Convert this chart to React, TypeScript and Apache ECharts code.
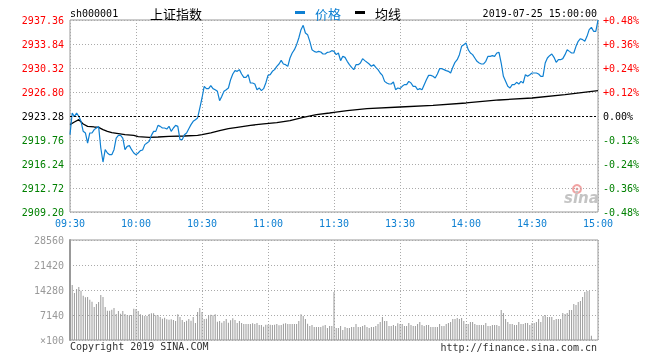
import React, { useEffect, useRef } from "react";
import * as echarts from "echarts";

const PRE_CLOSE = 2923.28;
const timeLabels = ["09:30", "10:00", "10:30", "11:00", "11:30", "13:30", "14:00", "14:30", "15:00"];

// one price per minute, index 0 = 09:30, 120 = 11:30/13:00, 240 = 15:00
const prices = [
  2920.54, 2923.72, 2923.18, 2923.72, 2923.23, 2922.50, 2921.03, 2920.79, 2919.32, 2920.79,
  2920.79, 2921.28, 2921.52, 2921.76, 2918.59, 2916.53, 2918.34, 2917.85, 2917.61, 2917.61,
  2918.34, 2920.05, 2920.44, 2920.44, 2920.05, 2918.34, 2918.83, 2918.93, 2918.34, 2917.85,
  2917.61, 2917.85, 2918.20, 2918.29, 2919.08, 2919.32, 2919.56, 2920.44, 2921.03, 2921.03,
  2921.91, 2921.76, 2921.52, 2921.52, 2921.37, 2921.76, 2921.03, 2921.52, 2921.91, 2921.76,
  2919.81, 2919.81, 2920.54, 2920.79, 2921.42, 2922.01, 2922.50, 2922.74, 2922.99, 2924.45,
  2925.92, 2927.63, 2927.29, 2927.29, 2927.73, 2927.29, 2927.14, 2926.90, 2925.53, 2926.16,
  2926.90, 2927.14, 2927.39, 2928.61, 2929.44, 2929.93, 2929.83, 2930.08, 2929.44, 2928.95,
  2928.95, 2929.34, 2928.12, 2928.12, 2927.97, 2927.14, 2927.39, 2927.00, 2927.29, 2928.12,
  2929.24, 2929.34, 2929.83, 2930.08, 2930.56, 2930.91, 2931.44, 2930.91, 2930.81, 2930.56,
  2931.79, 2932.52, 2933.01, 2933.74, 2934.72, 2935.94, 2936.58, 2935.45, 2935.21, 2934.23,
  2933.01, 2932.76, 2932.62, 2932.76, 2932.67, 2932.37, 2932.37, 2932.62, 2932.67, 2932.86,
  2932.76, 2932.28, 2932.52, 2931.40, 2932.03, 2931.88, 2931.30, 2930.81, 2930.42, 2930.08,
  2930.81, 2930.81, 2931.05, 2931.69, 2931.40, 2931.15, 2930.91, 2930.56, 2930.81, 2930.42,
  2930.08, 2929.59, 2929.24, 2928.36, 2928.12, 2927.97, 2927.97, 2928.27, 2927.14, 2927.39,
  2927.29, 2927.63, 2927.88, 2927.88, 2928.36, 2928.12, 2927.63, 2927.63, 2927.14, 2927.29,
  2927.14, 2927.88, 2928.61, 2929.24, 2929.24, 2929.10, 2928.85, 2929.44, 2930.22, 2930.22,
  2930.08, 2929.93, 2929.83, 2929.59, 2930.42, 2931.15, 2931.54, 2932.28, 2933.50, 2933.74,
  2933.99, 2933.01, 2932.52, 2932.28, 2931.79, 2931.30, 2931.05, 2930.91, 2930.91, 2931.30,
  2932.03, 2932.03, 2932.13, 2932.03, 2932.52, 2932.62, 2931.05, 2929.10, 2928.36, 2927.63,
  2927.39, 2927.88, 2927.88, 2928.22, 2927.97, 2928.36, 2928.12, 2929.34, 2929.10, 2929.34,
  2929.59, 2929.59, 2929.59, 2929.44, 2929.10, 2929.10, 2931.05, 2931.79, 2932.13, 2932.37,
  2931.88, 2931.15, 2931.54, 2931.54, 2931.69, 2932.28, 2933.01, 2932.76, 2932.52, 2932.52,
  2933.50, 2934.23, 2934.62, 2934.48, 2934.23, 2934.96, 2935.94, 2936.28, 2935.70, 2935.70,
  2937.36,
];

const avgMinutes = [0, 2, 4, 6, 8, 11, 13, 15, 17, 19, 22, 25, 29, 31, 36, 40, 45, 52, 58, 60, 64, 68, 72, 76, 82, 88, 94, 100, 106, 112, 118, 120, 126, 135, 150, 165, 180, 195, 210, 225, 240];
const avgValues = [
  2922.01, 2922.40, 2922.74, 2922.10, 2921.76, 2921.67, 2921.62, 2921.28, 2921.03, 2920.84,
  2920.69, 2920.54, 2920.44, 2920.25, 2920.15, 2920.20, 2920.30, 2920.35, 2920.44, 2920.54,
  2920.79, 2921.12, 2921.42, 2921.62, 2921.91, 2922.11, 2922.30, 2922.60, 2923.08, 2923.48,
  2923.72, 2923.82, 2924.06, 2924.36, 2924.60, 2924.84, 2925.19, 2925.63, 2925.92, 2926.41,
  2926.99,
];

// volumes (x100), per minute
const volMorning = [
  16660, 15708, 13423, 14566, 15137, 14090, 12662, 12186, 12281, 11519,
  10948, 9425, 10282, 10853, 12852, 12281, 9425, 8378, 8378, 8663,
  9139, 7426, 8282, 7521, 8282, 7426, 7140, 7045, 7140, 8949,
  8854, 8282, 7330, 6950, 6854, 6854, 7426, 7616, 7616, 7045,
  7045, 6569, 6093, 6378, 5902, 5807, 5902, 5712, 5426, 7330,
  6569, 5712, 5141, 5522, 5998, 5522, 6569, 4855, 7997, 9139,
  7997, 5998, 6093, 7045, 7235, 7045, 7330, 5236, 5426, 4950,
  5426, 5998, 4950, 5617, 6188, 5712, 4855, 5426, 4855, 4570,
  4570, 4570, 4570, 4760, 4570, 4855, 4284, 4284, 3808, 4379,
  4379, 4379, 4284, 4379, 4570, 4189, 4284, 4665, 4760, 4570,
  4570, 4570, 4570, 4570, 5426, 7330, 6854, 5998, 4665, 3998,
  4284, 3713, 3713, 3713, 3713, 4094, 4284, 3427, 3998, 3998,
];
const volMidday = [13709];
const volAfternoon = [
  3427, 3427, 3998, 2856, 3713, 3427, 3427, 3713, 3713, 4570,
  3713, 3713, 3998, 4284, 3713, 3427, 3713, 3713, 3998, 4570,
  5141, 6569, 5426, 5426, 3998, 3998, 4284, 3998, 4760, 4570,
  4570, 3998, 3998, 4855, 4284, 3998, 3998, 4570, 5141, 4284,
  3998, 4284, 4284, 3713, 3713, 3713, 3713, 4570, 3998, 3998,
  4570, 4855, 5141, 5998, 5998, 6283, 5998, 6283, 5426, 4570,
  4570, 5141, 5141, 4570, 4284, 4284, 4284, 4284, 4855, 3998,
  3998, 4284, 4284, 4284, 3998, 8568, 7711, 5998, 5141, 4570,
  4570, 4284, 4284, 5141, 4570, 4570, 4855, 4855, 4284, 4855,
  4855, 5141, 5998, 5141, 6854, 7140, 6569, 6569, 6569, 5712,
  5998, 5998, 5998, 7711, 7426, 7711, 8568, 8568, 10282, 9996,
  10853, 11138, 12281, 13709, 13994, 13994, 1238, 0, 0, 0,
];

const volTicks = [0, 7140, 14280, 21420, 28560];

const BLUE = "#0f80d2";
const MONO = '"DejaVu Sans Mono", monospace';
const CJK = '"Noto Sans CJK SC", sans-serif';

function signColor(v: any) {
  const n = Number(v);
  if (Math.abs(n) < 1e-6) return "#000";
  return n > 0 ? "#ff0000" : "#008000";
}

export default function App() {
  const ref = useRef<HTMLDivElement>(null);
  useEffect(() => {
    if (!ref.current) return;
    const chart = echarts.init(ref.current, null, { renderer: "svg" });
    const volumes = [...volMorning, ...volMidday, ...volAfternoon];
    const span = PRE_CLOSE * 0.0048165;
    const step = 3.52;
    const lim = step * 4;
    const dotted = { color: "#aaa", type: [1, 2] as any, width: 1 };
    chart.setOption({
      animation: false,
      grid: [
        { left: 70, top: 20, width: 528, height: 192, show: true, borderColor: "#999", borderWidth: 1 },
        { left: 70, top: 240, width: 528, height: 100, show: true, borderColor: "#999", borderWidth: 1 },
      ],
      xAxis: [
        {
          type: "value", gridIndex: 0, min: 0, max: 240, interval: 30,
          axisLine: { show: false }, axisTick: { show: false },
          axisLabel: {
            formatter: (v: number) => timeLabels[Math.round(v / 30)] ?? "",
            color: BLUE, fontFamily: MONO, fontSize: 10, margin: 6,
            showMinLabel: true, showMaxLabel: true,
          },
          splitLine: { show: true, lineStyle: dotted },
        },
        {
          type: "value", gridIndex: 1, min: 0, max: 240, interval: 30,
          axisLine: { show: false }, axisTick: { show: false }, axisLabel: { show: false },
          splitLine: { show: true, lineStyle: dotted },
        },
      ],
      yAxis: [
        {
          type: "value", gridIndex: 0, position: "left", min: -lim, max: lim, interval: step,
          axisLine: { show: false }, axisTick: { show: false },
          axisLabel: {
            formatter: (v: number) => (Number(v) + PRE_CLOSE).toFixed(2),
            color: signColor, fontFamily: MONO, fontSize: 10, margin: 6,
          },
          splitLine: { show: true, lineStyle: dotted },
        },
        {
          type: "value", gridIndex: 0, position: "right", min: -lim, max: lim, interval: step,
          axisLine: { show: false }, axisTick: { show: false },
          axisLabel: {
            formatter: (v: number) => {
              const p = (Number(v) / PRE_CLOSE) * 100;
              if (Math.abs(p) < 1e-6) return "0.00%";
              return (p > 0 ? "+" : "") + p.toFixed(2) + "%";
            },
            color: signColor, fontFamily: MONO, fontSize: 10, margin: 5,
          },
          splitLine: { show: false },
        },
        {
          type: "value", gridIndex: 1, position: "left", min: volTicks[0], max: volTicks[4], interval: volTicks[1],
          axisLine: { show: true, lineStyle: { color: "#999", width: 2 } }, axisTick: { show: false },
          axisLabel: {
            formatter: (v: number) => (Number(v) === 0 ? "×100" : String(v)),
            color: "#999", fontFamily: MONO, fontSize: 10, margin: 6,
          },
          splitLine: { show: true, lineStyle: dotted },
        },
      ],
      series: [
        {
          name: "均线", type: "line", xAxisIndex: 0, yAxisIndex: 0,
          data: avgMinutes.map((m, i) => [m, avgValues[i] - PRE_CLOSE]),
          showSymbol: false, symbol: "none", lineStyle: { color: "#000", width: 1.3 }, itemStyle: { color: "#000" },
          markLine: {
            silent: true, symbol: "none", label: { show: false },
            lineStyle: { color: "#000", type: [2, 2], width: 1 },
            data: [{ yAxis: 0 }],
          },
        },
        {
          name: "价格", type: "line", xAxisIndex: 0, yAxisIndex: 0,
          data: prices.map((p, i) => [i, p - PRE_CLOSE]),
          showSymbol: false, symbol: "none", lineStyle: { color: BLUE, width: 1.2 }, itemStyle: { color: BLUE },
        },
        {
          name: "成交量", type: "bar", xAxisIndex: 1, yAxisIndex: 2,
          data: volumes.map((v, i) => [i, v]),
          barWidth: 1, itemStyle: { color: "#999" },
        },
      ],
      graphic: [
        { type: "text", x: 70, y: 13, style: { text: "sh000001", fill: "#000", font: `10px ${MONO}`, textAlign: "left", textVerticalAlign: "middle" } },
        { type: "text", x: 150, y: 13, style: { text: "上证指数", fill: "#000", font: `13px ${CJK}`, textAlign: "left", textVerticalAlign: "middle" } },
        { type: "rect", shape: { x: 295, y: 11, width: 10, height: 3 }, style: { fill: BLUE } },
        { type: "text", x: 315, y: 13, style: { text: "价格", fill: BLUE, font: `13px ${CJK}`, textAlign: "left", textVerticalAlign: "middle" } },
        { type: "rect", shape: { x: 355, y: 11, width: 10, height: 3 }, style: { fill: "#000" } },
        { type: "text", x: 375, y: 13, style: { text: "均线", fill: "#000", font: `13px ${CJK}`, textAlign: "left", textVerticalAlign: "middle" } },
        { type: "text", x: 597, y: 13, style: { text: "2019-07-25 15:00:00", fill: "#000", font: `10px ${MONO}`, textAlign: "right", textVerticalAlign: "middle" } },
        { type: "text", x: 70, y: 346, style: { text: "Copyright 2019 SINA.COM", fill: "#333", font: `10px ${MONO}`, textAlign: "left", textVerticalAlign: "middle" } },
        { type: "text", x: 597, y: 347, style: { text: "http://finance.sina.com.cn", fill: "#333", font: `10px ${MONO}`, textAlign: "right", textVerticalAlign: "middle" } },
        {
          type: "group", z: 0,
          children: [
            { type: "circle", shape: { cx: 577, cy: 189, r: 4 }, style: { fill: "none", stroke: "#f2a3a3", lineWidth: 2 } },
            { type: "circle", shape: { cx: 577, cy: 189, r: 1.3 }, style: { fill: "#e89a9a" } },
            { type: "text", x: 564, y: 198, style: { text: "sina", fill: "#c4c4c4", font: `italic bold 15px "DejaVu Sans", sans-serif`, textAlign: "left", textVerticalAlign: "middle" } },
          ],
        },
      ],
    });
    return () => chart.dispose();
  }, []);
  return <div ref={ref} style={{ position: "fixed", left: 0, top: 0, width: 660, height: 360 }} />;
}
